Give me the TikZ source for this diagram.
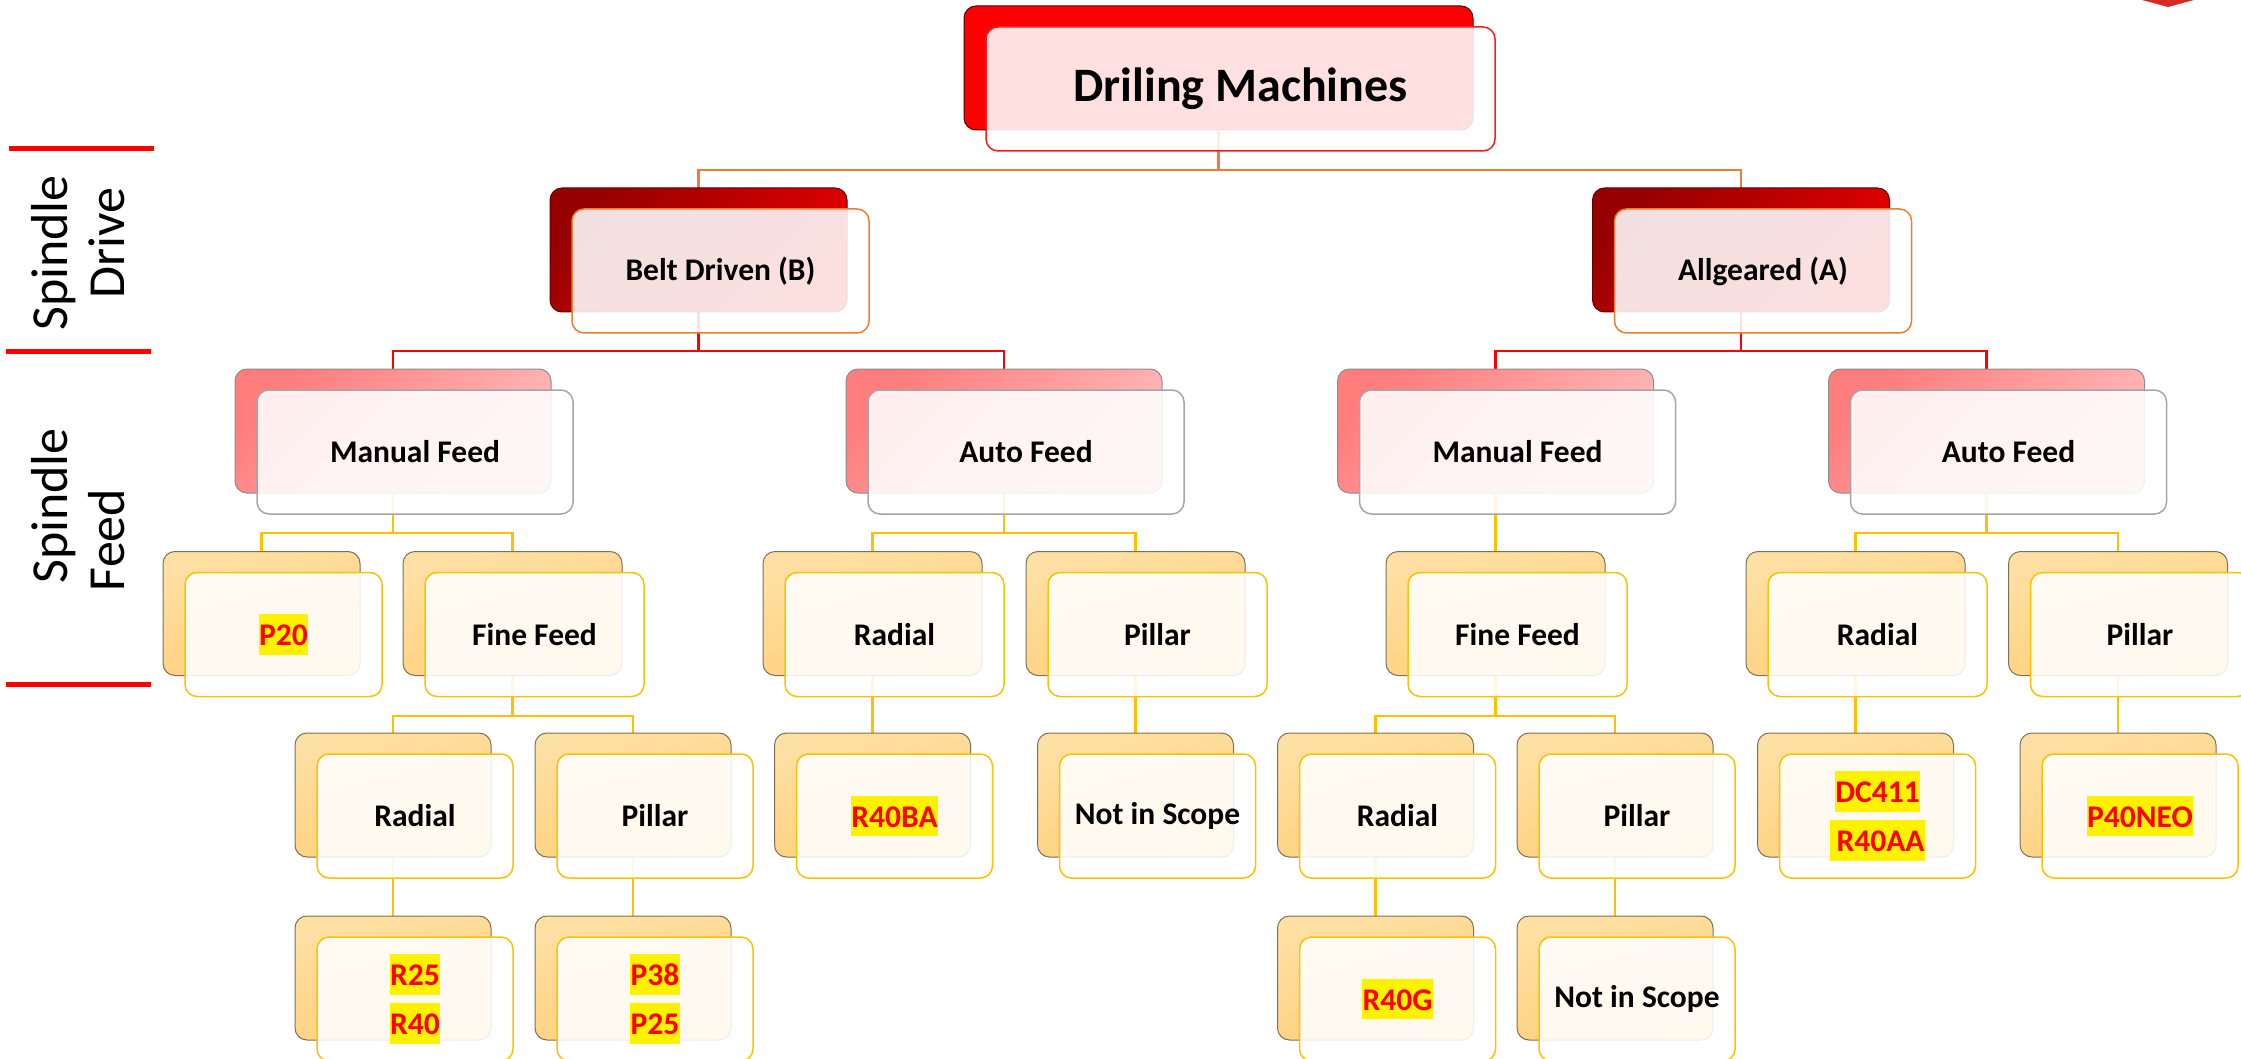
\documentclass[tikz,border=0pt]{standalone}
\usepackage{fontspec}
\setmainfont{Carlito}
\pgfdeclarelayer{background}
\pgfsetlayers{background,main}
\definecolor{cOrange}{HTML}{ED7D31}
\definecolor{cGold}{HTML}{FFC000}
\definecolor{cRed}{HTML}{FF0000}
\definecolor{dRedA}{HTML}{960000}
\definecolor{dRedB}{HTML}{EA0000}
\definecolor{pkA}{HTML}{FF7D7D}
\definecolor{pkB}{HTML}{FFBCBC}
\definecolor{orA}{HTML}{FFE0A4}
\definecolor{orB}{HTML}{FFD07A}
\definecolor{bordB}{HTML}{7F6F55}
\definecolor{cornerRed}{HTML}{D62B22}
\newcommand{\hlt}[1]{{\setlength{\fboxsep}{0.6pt}\colorbox{yellow}{\rule[-8.5pt]{0pt}{39pt}\textcolor{red}{#1}}}}
\newcommand{\pairbox}[7]{%
  \node[#5, minimum width=#4pt] (#1b) at (#2,#3) {};
  \node[#6, minimum width=#4pt] (#1) at ({#2+22},{#3+21}) {#7};}
\tikzset{
  box/.style={rectangle, rounded corners=12pt, inner sep=0pt, outer sep=0pt, minimum height=124pt},
  bkA/.style={box, fill=cRed, draw=black!70!red, line width=1pt},
  bkB/.style={box, draw=black!60!red, line width=1pt, top color=dRedA, bottom color=dRedB, shading angle=45},
  bkC/.style={box, draw=black!45, line width=1pt, top color=pkA, bottom color=pkB, shading angle=45},
  bkD/.style={box, draw=bordB, line width=1pt, top color=orA, bottom color=orB, shading angle=15},
  fr/.style={box, fill=white, fill opacity=0.88, text opacity=1, line width=1.5pt, align=center, font=\fontsize{31.5}{49}\selectfont\bfseries},
  frA/.style={fr, draw=cRed!90, font=\fontsize{48}{58}\selectfont\bfseries},
  frB/.style={fr, draw=cOrange},
  frC/.style={fr, draw=black!35},
  frD/.style={fr, draw=cGold},
  cO/.style={draw=cOrange, line width=2.2pt},
  cR/.style={draw=cRed, line width=2.5pt},
  cY/.style={draw=cGold, line width=2.5pt},
  side/.style={rotate=90, inner sep=0pt, font=\fontsize{52}{60}\selectfont},
  sideline/.style={draw=cRed, line width=5pt},
}
\begin{document}
\begin{tikzpicture}[x=1pt, y=-1pt]
\useasboundingbox (0,0) rectangle (2241,1059);
% corner mark
\fill[cornerRed] (2142,0) -- (2194,0) -- (2168,7) -- cycle;
% side labels
\draw[sideline] (9,149) -- (154,149);
\draw[sideline] (6,351) -- (151,351);
\draw[sideline] (6,684) -- (151,684);
\node[side] (sdA) at (54,253) {Spindle};
\node[side] (sdB) at (107,243) {Drive};
\node[side] (sfA) at (54,506) {Spindle};
\node[side] (sfB) at (107,540) {Feed};
% level 1
\pairbox{dm}{1218.5}{68}{509}{bkA}{frA}{Driling Machines}
% level 2
\pairbox{bd}{698.5}{250}{297}{bkB}{frB}{Belt Driven (B)}
\pairbox{ag}{1741}{250}{297}{bkB}{frB}{Allgeared (A)}
% level 3
\pairbox{mfL}{393}{431}{316}{bkC}{frC}{Manual Feed}
\pairbox{afL}{1004}{431}{316}{bkC}{frC}{Auto Feed}
\pairbox{mfR}{1495.5}{431}{316}{bkC}{frC}{Manual Feed}
\pairbox{afR}{1986.5}{431}{316}{bkC}{frC}{Auto Feed}
% level 4
\pairbox{pt}{261.5}{613.5}{197}{bkD}{frD}{\hlt{P20}}
\pairbox{ffL}{512.5}{613.5}{219}{bkD}{frD}{Fine Feed}
\pairbox{radL}{872.5}{613.5}{219}{bkD}{frD}{Radial}
\pairbox{pilL}{1135.5}{613.5}{219}{bkD}{frD}{Pillar}
\pairbox{ffR}{1495.5}{613.5}{219}{bkD}{frD}{Fine Feed}
\pairbox{radR}{1855.5}{613.5}{219}{bkD}{frD}{Radial}
\pairbox{pilR}{2118}{613.5}{219}{bkD}{frD}{Pillar}
% level 5
\pairbox{radLL}{393}{795}{196}{bkD}{frD}{Radial}
\pairbox{pilLL}{633}{795}{196}{bkD}{frD}{Pillar}
\pairbox{rba}{872.5}{795}{196}{bkD}{frD}{\hlt{R40BA}}
\pairbox{nisL}{1135.5}{795}{196}{bkD}{frD}{Not in Scope}
\pairbox{radRR}{1375.5}{795}{196}{bkD}{frD}{Radial}
\pairbox{pilRR}{1615}{795}{196}{bkD}{frD}{Pillar}
\pairbox{dc}{1855.5}{795}{196}{bkD}{frD}{\hlt{DC411}\\\hlt{\hspace{6pt}R40AA}}
\pairbox{pneo}{2118}{795}{196}{bkD}{frD}{\hlt{P40NEO}}
% level 6
\pairbox{rtf}{393}{978}{196}{bkD}{frD}{\hlt{R25}\\\hlt{R40}}
\pairbox{pte}{633}{978}{196}{bkD}{frD}{\hlt{P38}\\\hlt{P25}}
\pairbox{rg}{1375.5}{978}{196}{bkD}{frD}{\hlt{R40G}}
\pairbox{nisR}{1615}{978}{196}{bkD}{frD}{Not in Scope}
% connectors
\coordinate (busA) at (0,170);
\coordinate (busB) at (0,351);
\coordinate (busC) at (0,533);
\coordinate (busD) at (0,716);
\begin{pgfonlayer}{background}
\draw[cO] (dmb.south) -- (dmb.south |- busA) -| (bdb.north);
\draw[cO] (dmb.south |- busA) -| (agb.north);
\draw[cR] (bdb.south) -- (bdb.south |- busB) -| (mfLb.north);
\draw[cR] (bdb.south |- busB) -| (afLb.north);
\draw[cR] (agb.south) -- (agb.south |- busB) -| (mfRb.north);
\draw[cR] (agb.south |- busB) -| (afRb.north);
\draw[cY] (mfLb.south) -- (mfLb.south |- busC) -| (ptb.north);
\draw[cY] (mfLb.south |- busC) -| (ffLb.north);
\draw[cY] (afLb.south) -- (afLb.south |- busC) -| (radLb.north);
\draw[cY] (afLb.south |- busC) -| (pilLb.north);
\draw[cY] (mfRb.south) -- (ffRb.north);
\draw[cY] (afRb.south) -- (afRb.south |- busC) -| (radRb.north);
\draw[cY] (afRb.south |- busC) -| (pilRb.north);
\draw[cY] (ffLb.south) -- (ffLb.south |- busD) -| (radLLb.north);
\draw[cY] (ffLb.south |- busD) -| (pilLLb.north);
\draw[cY] (radLb.south) -- (rbab.north);
\draw[cY] (pilLb.south) -- (nisLb.north);
\draw[cY] (ffRb.south) -- (ffRb.south |- busD) -| (radRRb.north);
\draw[cY] (ffRb.south |- busD) -| (pilRRb.north);
\draw[cY] (radRb.south) -- (dcb.north);
\draw[cY] (pilRb.south) -- (pneob.north);
\draw[cY] (radLLb.south) -- (rtfb.north);
\draw[cY] (pilLLb.south) -- (pteb.north);
\draw[cY] (radRRb.south) -- (rgb.north);
\draw[cY] (pilRRb.south) -- (nisRb.north);
\end{pgfonlayer}
\end{tikzpicture}
\end{document}
